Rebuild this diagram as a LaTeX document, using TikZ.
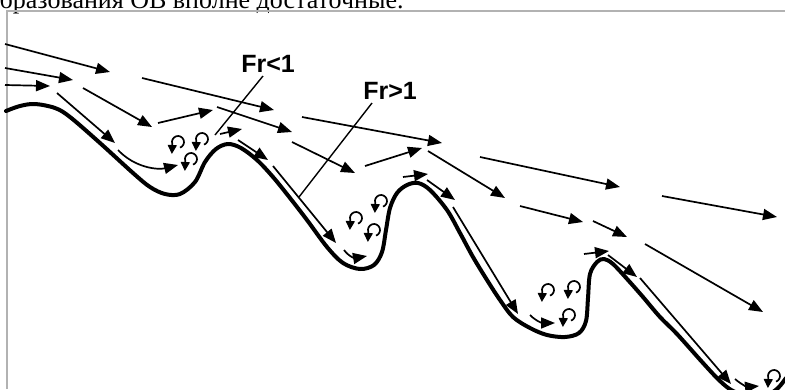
\documentclass[tikz,border=0pt]{standalone}
\usepackage{fontspec}
\setmainfont{Liberation Serif}
\newfontfamily\labelfont{Liberation Sans}
\usetikzlibrary{arrows.meta}
\begin{document}
\begin{tikzpicture}[x=1pt,y=-1pt,
  flow/.style={line width=1.7pt,-{Triangle[length=14pt,width=11pt]}},
  ground/.style={line width=4pt,line cap=round,line join=round},
  eddy/.style={line width=1.7pt,-{Triangle[length=9pt,width=9pt]}},
  leader/.style={line width=1.4pt},
  frlabel/.style={font=\labelfont\bfseries\fontsize{25}{25}\selectfont,inner sep=0pt},
  frameline/.style={draw=gray!60,line width=1.3pt},
  pics/vortex/.style={code={
    \draw[eddy] (-70:6pt) arc[start angle=-70,end angle=200,radius=6pt] -- ++(-0.5,10);}}]
\useasboundingbox (0,0) rectangle (785,389);
\clip (0,0) rectangle (785,389);

% running text above the figure frame
\node[anchor=base west,inner sep=0pt,font=\fontsize{26}{26}\selectfont] (caption)
  at (-13.5,8.5) {образования ОВ вполне достаточные.};

% figure frame
\draw[frameline] (7,389) -- (7,11) -- (785,11);

% bed profile
\draw[ground] plot[smooth,tension=0.55] coordinates {
  (6,111) (20,106) (35,104) (55,108) (70,117) (100,143) (133,173) (150,187)
  (165,194) (180,194) (195,182) (205,162) (216,149) (228,144) (241,148)
  (257,160) (273,177) (290,198) (307,220) (327,247) (343,263) (360,269)
  (374,265) (382,252) (386,230) (390,208) (397,193) (407,185) (418,183)
  (430,190) (447,210) (460,233) (473,257) (487,280) (500,300) (513,317)
  (530,328) (547,335) (565,337) (579,333) (586,321) (588,298) (590,274)
  (597,262) (604,259) (613,264) (628,280) (643,297) (660,317) (677,334)
  (703,363) (720,381) (733,391) (750,396) (767,395) (778,388) (786,378)};

% upstream flow
\draw[flow] (5,44) -- (110,72);
\draw[flow] (5,68) -- (73,80);
\draw[flow] (5,85) -- (50,86);
\draw[flow] (57,93) -- (115,143);
\draw[flow] (83,88) -- (152,127);
\draw[flow] (142,78) -- (274,110);
\draw[flow] (158,123) -- (213,110);
\draw[flow] (217,107) -- (292,132);
\draw[flow] (118,150) .. controls (135,168) and (158,170) .. (178,165);

% first crest and slope
\draw[flow] (220,134) -- (242,129);
\draw[flow] (238,140) -- (268,160);
\draw[flow] (273,166) -- (336,243);
\draw[flow] (344,250) .. controls (350,258) and (356,258) .. (367,256);

% middle flow
\draw[flow] (302,117) -- (442,143);
\draw[flow] (292,142) -- (355,173);
\draw[flow] (365,166) -- (422,148);
\draw[flow] (428,151) -- (505,198);
\draw[flow] (480,157) -- (620,187);
\draw[flow] (520,206) -- (583,222);
\draw[flow] (593,221) -- (627,237);
\draw[flow] (662,196) -- (777,217);
\draw[flow] (645,244) -- (763,312);

% second crest and slope
\draw[flow] (403,177) -- (428,174);
\draw[flow] (427,180) -- (455,200);
\draw[flow] (453,207) -- (518,314);
\draw[flow] (530,315) .. controls (537,322) and (543,323) .. (555,323);

% third crest and slope
\draw[flow] (584,254) -- (609,251);
\draw[flow] (608,255) -- (637,277);
\draw[flow] (640,278) -- (731,384);
\draw[flow] (735,379) .. controls (742,385) and (748,387) .. (759,386);

% eddies in the troughs
\foreach \p in {(178,142),(202,139),(191,159),
                (381,201),(356,218),(374,230),
                (548,290),(574,287),(569,315),
                (774,376)}
  \pic at \p {vortex};

% Froude number labels
\node[frlabel] (frlow) at (268,64) {Fr<1};
\node[frlabel] (frhigh) at (390,91) {Fr>1};
\draw[leader] (263,76) -- (215,135);
\draw[leader] (372,103) -- (299,197);
\end{tikzpicture}
\end{document}
